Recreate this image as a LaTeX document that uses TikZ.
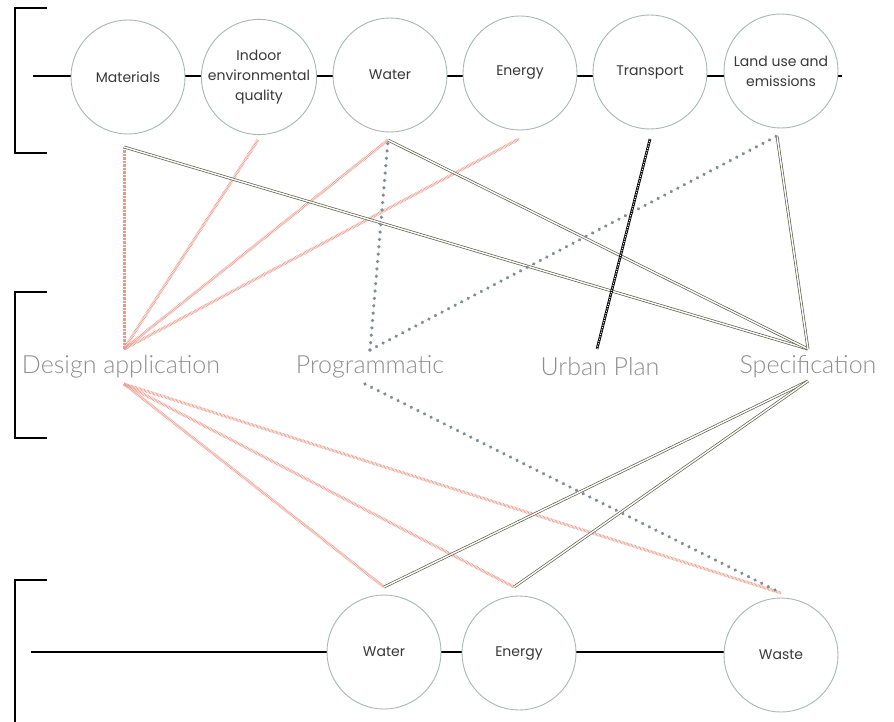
\documentclass[tikz,border=0pt]{standalone}
\usepackage{fontspec}
\usetikzlibrary{decorations.markings}
\setmainfont{Poppins}
\newfontfamily\circfont{Poppins}
\newfontfamily\thinfont{Lato}[UprightFont={* Light}]
\definecolor{circ}{HTML}{A9B7B2}
\definecolor{txt}{HTML}{383838}
\definecolor{lbl}{HTML}{8E8E8E}
\definecolor{salmon}{HTML}{E69A8A}
\definecolor{olivec}{HTML}{5C604C}
\definecolor{dotc}{HTML}{808C93}
\tikzset{
  topic/.style={circle, draw=circ, fill=white, line width=0.9pt, minimum size=114pt,
    inner sep=0pt, align=center, text=txt, font=\circfont\fontsize{14}{20}\selectfont},
  layer/.style={text=lbl, inner sep=0pt, font=\thinfont\fontsize{25}{28}\selectfont},
  chain/.style={draw=black, line width=1.1pt},
  bracket/.style={draw=black, line width=1.4pt},
  hatch/.style={draw=salmon, line width=3pt, dash pattern=on 0.6pt off 0.8pt},
  twin/.style={draw=olivec, double=white, double distance=1.4pt, line width=0.7pt},
  dots/.style={decoration={markings,
      mark=between positions 0 and 1 step 7.4pt with {\fill[dotc] (0,0) circle (1.8pt);}},
    decorate},
  ringline/.style={draw=black, line width=2.6pt},
  ringholes/.style={draw=white, line width=1pt, dash pattern=on 1.1pt off 1.3pt},
}
\begin{document}
\begin{tikzpicture}[x=1pt, y=-1pt]
\useasboundingbox (0,0) rectangle (894,722);

% brackets grouping the three layers
\draw[bracket] (47,8) -- (15,8) -- (15,153) -- (47,153);
\draw[bracket] (47,292) -- (15,292) -- (15,438) -- (47,438);
\draw[bracket] (47,580) -- (15,580) -- (15,722);

% chain axes, drawn first so the white circles cover them
\coordinate (topstart) at (33,76);
\coordinate (topend) at (842,76);
\draw[chain] (topstart) -- (topend);
\coordinate (botstart) at (31,652);
\coordinate (botend) at (781,652);
\draw[chain] (botstart) -- (botend);

% top row of topics
\node[topic] (mat)  at (128,77) {Materials};
\node[topic] (ieq)  at (259,77) {Indoor\\environmental\\quality};
\node[topic] (wat)  at (390,75) {Water};
\node[topic] (ene)  at (520,73) {Energy};
\node[topic] (tra)  at (650,72) {Transport};
\node[topic] (land) at (781,71) {Land use and\\emissions};

% bottom row of topics
\node[topic] (bwat) at (384,652) {Water};
\node[topic] (bene) at (519,653) {Energy};
\node[topic] (was)  at (781,655) {Waste};

% middle layer labels
\node[layer] (des)  at (121,367) {Design application};
\node[layer] (prog) at (370,367) {Programmatic};
\node[layer] (urb)  at (600,367) {Urban Plan};
\node[layer] (spec) at (808,367) {Specification};

% connection ports
\coordinate (matp)  at (124,147);
\coordinate (ieqp)  at (258,140);
\coordinate (watp)  at (388,140);
\coordinate (enep)  at (519,139);
\coordinate (trap)  at (650,139);
\coordinate (landp) at (777,136);
\coordinate (bwatp) at (384,587);
\coordinate (benep) at (514,587);
\coordinate (wasp)  at (781,593);
\coordinate (desT)  at (124,349);
\coordinate (desB)  at (124,384);
\coordinate (progT) at (370,350);
\coordinate (progB) at (365,384);
\coordinate (urbT)  at (597,349);
\coordinate (specT) at (808,349);
\coordinate (specB) at (808,381);

% design application links
\draw[hatch] (desT) -- (matp);
\draw[hatch] (desT) -- (ieqp);
\draw[hatch] (desT) -- (watp);
\draw[hatch] (desT) -- (enep);
\draw[hatch] (desB) -- (bwatp);
\draw[hatch] (desB) -- (benep);
\draw[hatch] (desB) -- (wasp);

% specification links
\draw[twin] (specT) -- (matp);
\draw[twin] (specT) -- (watp);
\draw[twin] (specT) -- (landp);
\draw[twin] (specB) -- (bwatp);
\draw[twin] (specB) -- (benep);

% programmatic links
\path[dots] (progT) -- (watp);
\path[dots] (progT) -- (landp);
\path[dots] (progB) -- (wasp);

% urban plan link
\draw[ringline] (urbT) -- (trap);
\draw[ringholes] (urbT) -- (trap);
\end{tikzpicture}
\end{document}
